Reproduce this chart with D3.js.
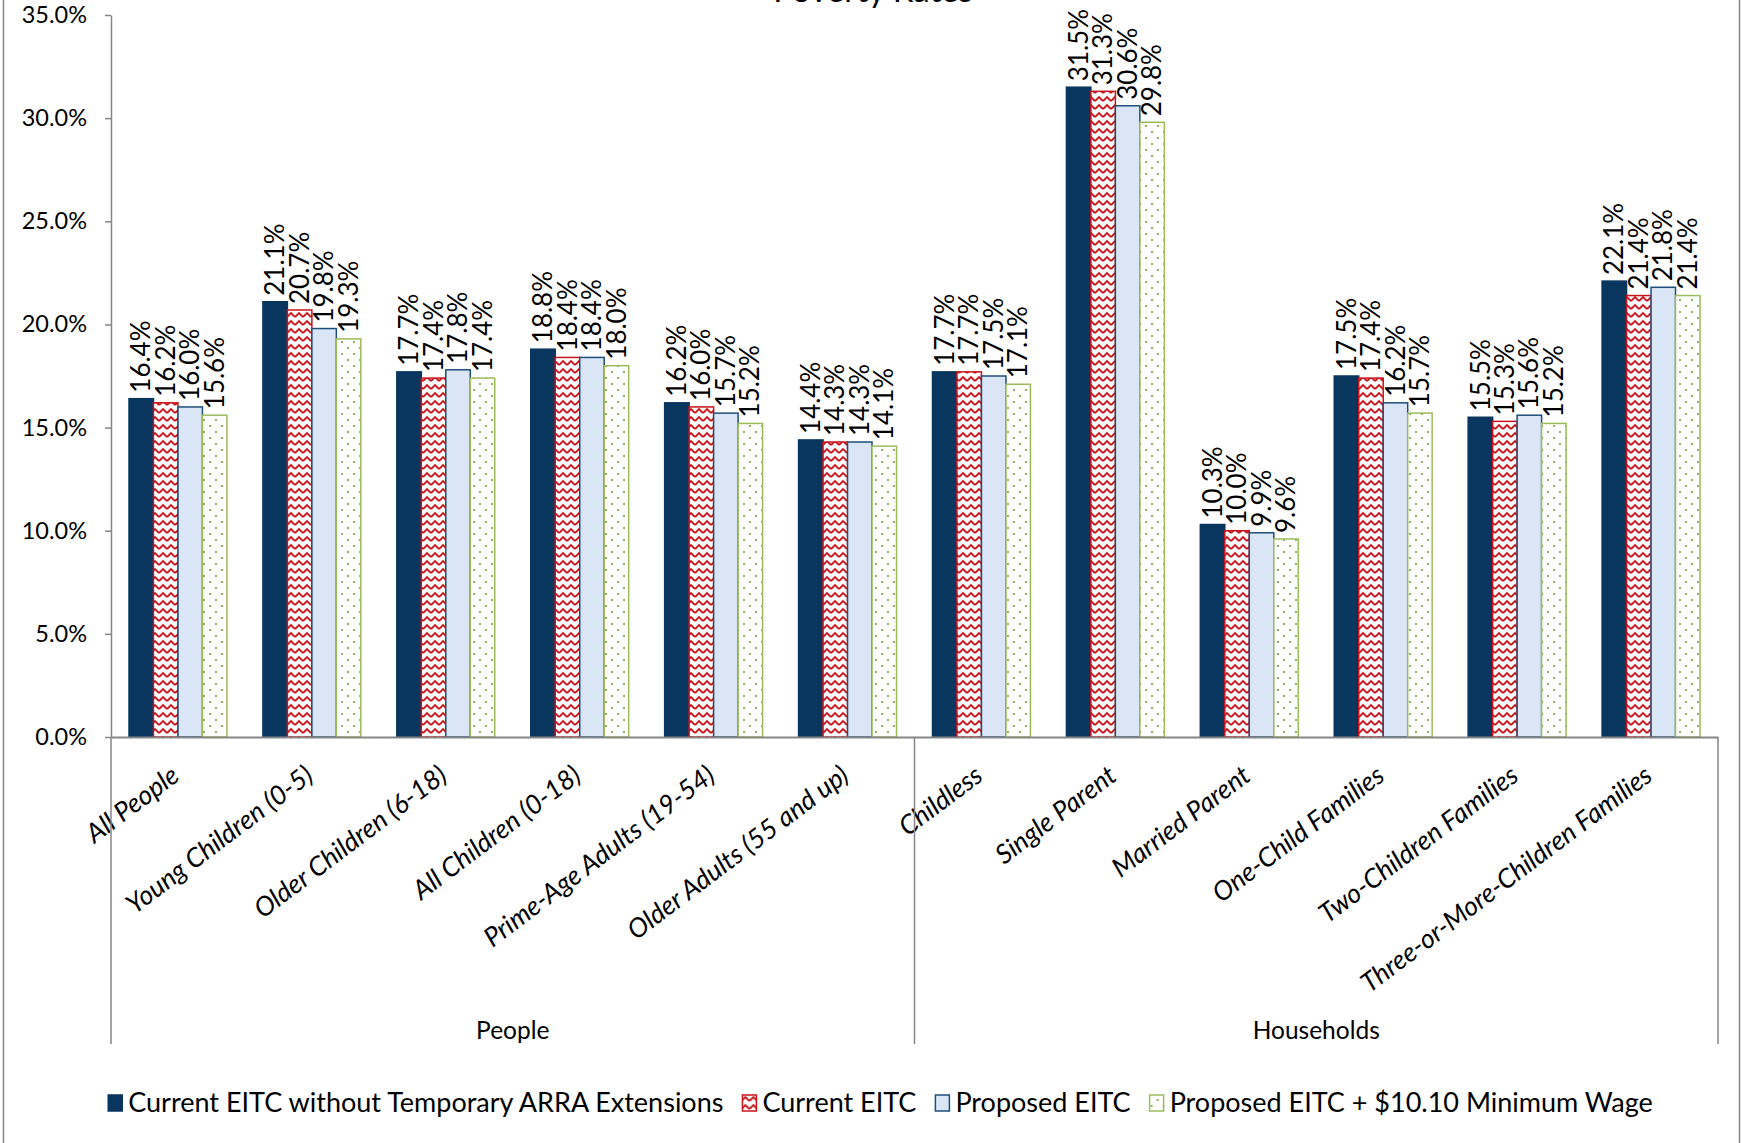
<!DOCTYPE html>
<html>
<head>
<meta charset="utf-8">
<script src="https://cdn.jsdelivr.net/npm/d3@7"></script>
<style>
  body { margin: 0; background: #fff; }
  svg { display: block; font-family: Lato, "Liberation Sans", sans-serif; }
  .axis path, .axis line { stroke: #868686; }
</style>
</head>
<body>
<svg id="chart"></svg>
<script>
// data (percent)
const categories = ['All People', 'Young Children (0-5)', 'Older Children (6-18)', 'All Children (0-18)',
  'Prime-Age Adults (19-54)', 'Older Adults (55 and up)', 'Childless', 'Single Parent', 'Married Parent',
  'One-Child Families', 'Two-Children Families', 'Three-or-More-Children Families'];
const groupNames = ['People', 'Households'];
const groupSizes = [6, 6];
const seriesNames = ['Current EITC without Temporary ARRA Extensions', 'Current EITC', 'Proposed EITC',
  'Proposed EITC + $10.10 Minimum Wage'];
const currentNoArra = [16.4, 21.1, 17.7, 18.8, 16.2, 14.4, 17.7, 31.5, 10.3, 17.5, 15.5, 22.1];
const currentEitc = [16.2, 20.7, 17.4, 18.4, 16.0, 14.3, 17.7, 31.3, 10.0, 17.4, 15.3, 21.4];
const proposedEitc = [16.0, 19.8, 17.8, 18.4, 15.7, 14.3, 17.5, 30.6, 9.9, 16.2, 15.6, 21.8];
const proposedMinWage = [15.6, 19.3, 17.4, 18.0, 15.2, 14.1, 17.1, 29.8, 9.6, 15.7, 15.2, 21.4];
const yTicks = [0, 5, 10, 15, 20, 25, 30, 35];
const chartTitle = 'Poverty Rates';

class BarChart {
  constructor(_config) {
    this.config = {
      parentElement: _config.parentElement,
      containerWidth: _config.containerWidth,
      containerHeight: _config.containerHeight,
      margin: {top: 15, right: 24, bottom: 406, left: 111},
    }
    this.series = [currentNoArra, currentEitc, proposedEitc, proposedMinWage];
    this.initVis();
  }

  initVis() {
    let vis = this;

    vis.width = vis.config.containerWidth - vis.config.margin.left - vis.config.margin.right;
    vis.height = vis.config.containerHeight - vis.config.margin.top - vis.config.margin.bottom;

    vis.svg = d3.select(vis.config.parentElement)
        .attr('width', vis.config.containerWidth)
        .attr('height', vis.config.containerHeight);

    // fill patterns: red zigzag and green dots
    const defs = vis.svg.append('defs');
    const zig = defs.append('pattern').attr('id', 'zigzag')
        .attr('width', 8).attr('height', 8).attr('patternUnits', 'userSpaceOnUse');
    zig.append('rect').attr('width', 8).attr('height', 8).attr('fill', '#fff');
    zig.append('path').attr('d', 'M0,6 L4,2 L8,6').attr('fill', 'none')
        .attr('stroke', '#C8141B').attr('stroke-width', 1.8);
    const dots = defs.append('pattern').attr('id', 'dots')
        .attr('width', 12).attr('height', 12).attr('patternUnits', 'userSpaceOnUse');
    dots.append('rect').attr('width', 12).attr('height', 12).attr('fill', '#fff');
    dots.append('rect').attr('x', 2).attr('y', 2).attr('width', 2).attr('height', 2).attr('fill', '#8DB45A');
    dots.append('rect').attr('x', 8).attr('y', 8).attr('width', 2).attr('height', 2).attr('fill', '#8DB45A');

    vis.fills = ['#08365F', 'url(#zigzag)', '#DAE6F5', 'url(#dots)'];
    vis.strokes = ['#08365F', '#C8141B', '#1F4E79', '#9BBB59'];

    // outer chart border
    vis.svg.append('rect')
        .attr('x', 3.5).attr('y', -10)
        .attr('width', vis.config.containerWidth - 6).attr('height', vis.config.containerHeight + 20)
        .attr('fill', 'none').attr('stroke', '#868686').attr('stroke-width', 1.5);

    // title sits mostly above the top edge, as in the source
    vis.svg.append('text')
        .attr('x', 873).attr('y', 2)
        .attr('text-anchor', 'middle')
        .style('font-size', '33px')
        .text(chartTitle);

    vis.xScale = d3.scaleBand()
        .domain(categories)
        .range([0, vis.width])
        .paddingInner(0)
        .paddingOuter(0);

    vis.xInner = d3.scaleBand()
        .domain(d3.range(seriesNames.length))
        .range([18, vis.xScale.bandwidth() - 18]);

    vis.yScale = d3.scaleLinear()
        .domain([0, 35])
        .range([vis.height, 0]);

    vis.chart = vis.svg.append('g')
        .attr('transform', `translate(${vis.config.margin.left},${vis.config.margin.top})`);

    vis.updateVis();
  }

  updateVis() {
    let vis = this;
    vis.renderVis();
  }

  renderVis() {
    let vis = this;

    // bars
    vis.series.forEach((vals, s) => {
      vis.chart.append('g').selectAll('rect')
          .data(vals)
          .join('rect')
          .attr('x', (d, i) => vis.xScale(categories[i]) + vis.xInner(s))
          .attr('y', d => vis.yScale(d))
          .attr('width', vis.xInner.bandwidth())
          .attr('height', d => vis.height - vis.yScale(d))
          .attr('fill', vis.fills[s])
          .attr('stroke', vis.strokes[s])
          .attr('stroke-width', 1.5);

      vis.chart.append('g').selectAll('text')
          .data(vals)
          .join('text')
          .attr('transform', (d, i) => {
            const cx = vis.xScale(categories[i]) + vis.xInner(s) + vis.xInner.bandwidth() / 2;
            return `translate(${cx},${vis.yScale(d) - 6}) rotate(-90)`;
          })
          .attr('dy', '0.35em')
          .style('font-size', '26px')
          .text(d => d.toFixed(1) + '%');
    });

    // y axis
    vis.yAxis = d3.axisLeft(vis.yScale)
        .tickValues(yTicks)
        .tickSize(6)
        .tickSizeOuter(0)
        .tickPadding(18)
        .tickFormat(d => d.toFixed(1) + '%');
    vis.yAxisG = vis.chart.append('g').attr('class', 'axis y-axis').call(vis.yAxis)
        .attr('font-family', null).attr('font-size', null);
    vis.yAxisG.selectAll('text').style('font-size', '23.5px').attr('fill', '#000');
    vis.yAxisG.selectAll('path, line').attr('stroke-width', 1.5);

    // x axis with slanted category labels
    vis.xAxis = d3.axisBottom(vis.xScale).tickSize(0).tickSizeOuter(0);
    vis.xAxisG = vis.chart.append('g')
        .attr('class', 'axis x-axis')
        .attr('transform', `translate(0,${vis.height})`)
        .call(vis.xAxis)
        .attr('font-family', null).attr('font-size', null);
    vis.xAxisG.select('.domain').attr('stroke-width', 2);
    vis.xAxisG.selectAll('text')
        .attr('y', 0).attr('dy', 0)
        .attr('transform', 'translate(3,42) rotate(-37)')
        .attr('text-anchor', 'end')
        .attr('fill', '#000')
        .style('font-size', '26.5px')
        .style('font-style', 'italic');

    // group brackets
    let start = 0;
    const bounds = [0];
    groupSizes.forEach(n => { start += n; bounds.push(start); });
    bounds.forEach(b => {
      const bx = b < categories.length ? vis.xScale(categories[b]) : vis.width;
      vis.chart.append('line')
          .attr('x1', bx).attr('x2', bx)
          .attr('y1', vis.height).attr('y2', vis.height + 307)
          .attr('stroke', '#868686').attr('stroke-width', 1.5);
    });
    groupNames.forEach((g, i) => {
      const a = vis.xScale(categories[bounds[i]]);
      const b = bounds[i + 1] < categories.length ? vis.xScale(categories[bounds[i + 1]]) : vis.width;
      vis.chart.append('text')
          .attr('x', (a + b) / 2).attr('y', vis.height + 302)
          .attr('text-anchor', 'middle')
          .style('font-size', '24.5px')
          .text(g);
    });

    // legend
    const legend = vis.svg.append('g');
    let lx = 0;
    seriesNames.forEach((name, s) => {
      const it = legend.append('g');
      it.append('rect')
          .attr('x', 1).attr('y', -8).attr('width', 14).attr('height', 16)
          .attr('fill', vis.fills[s]).attr('stroke', vis.strokes[s]).attr('stroke-width', 1.5);
      const t = it.append('text')
          .attr('x', 21).attr('dy', '0.35em')
          .style('font-size', '27px')
          .text(name);
      const w = 21 + t.node().getComputedTextLength();
      it.attr('transform', `translate(${lx},0)`);
      lx += w + 18;
    });
    const total = lx - 18;
    legend.attr('transform', `translate(${880 - total / 2},1103)`);
  }
}

new BarChart({parentElement: '#chart', containerWidth: 1742, containerHeight: 1143});
</script>
</body>
</html>
